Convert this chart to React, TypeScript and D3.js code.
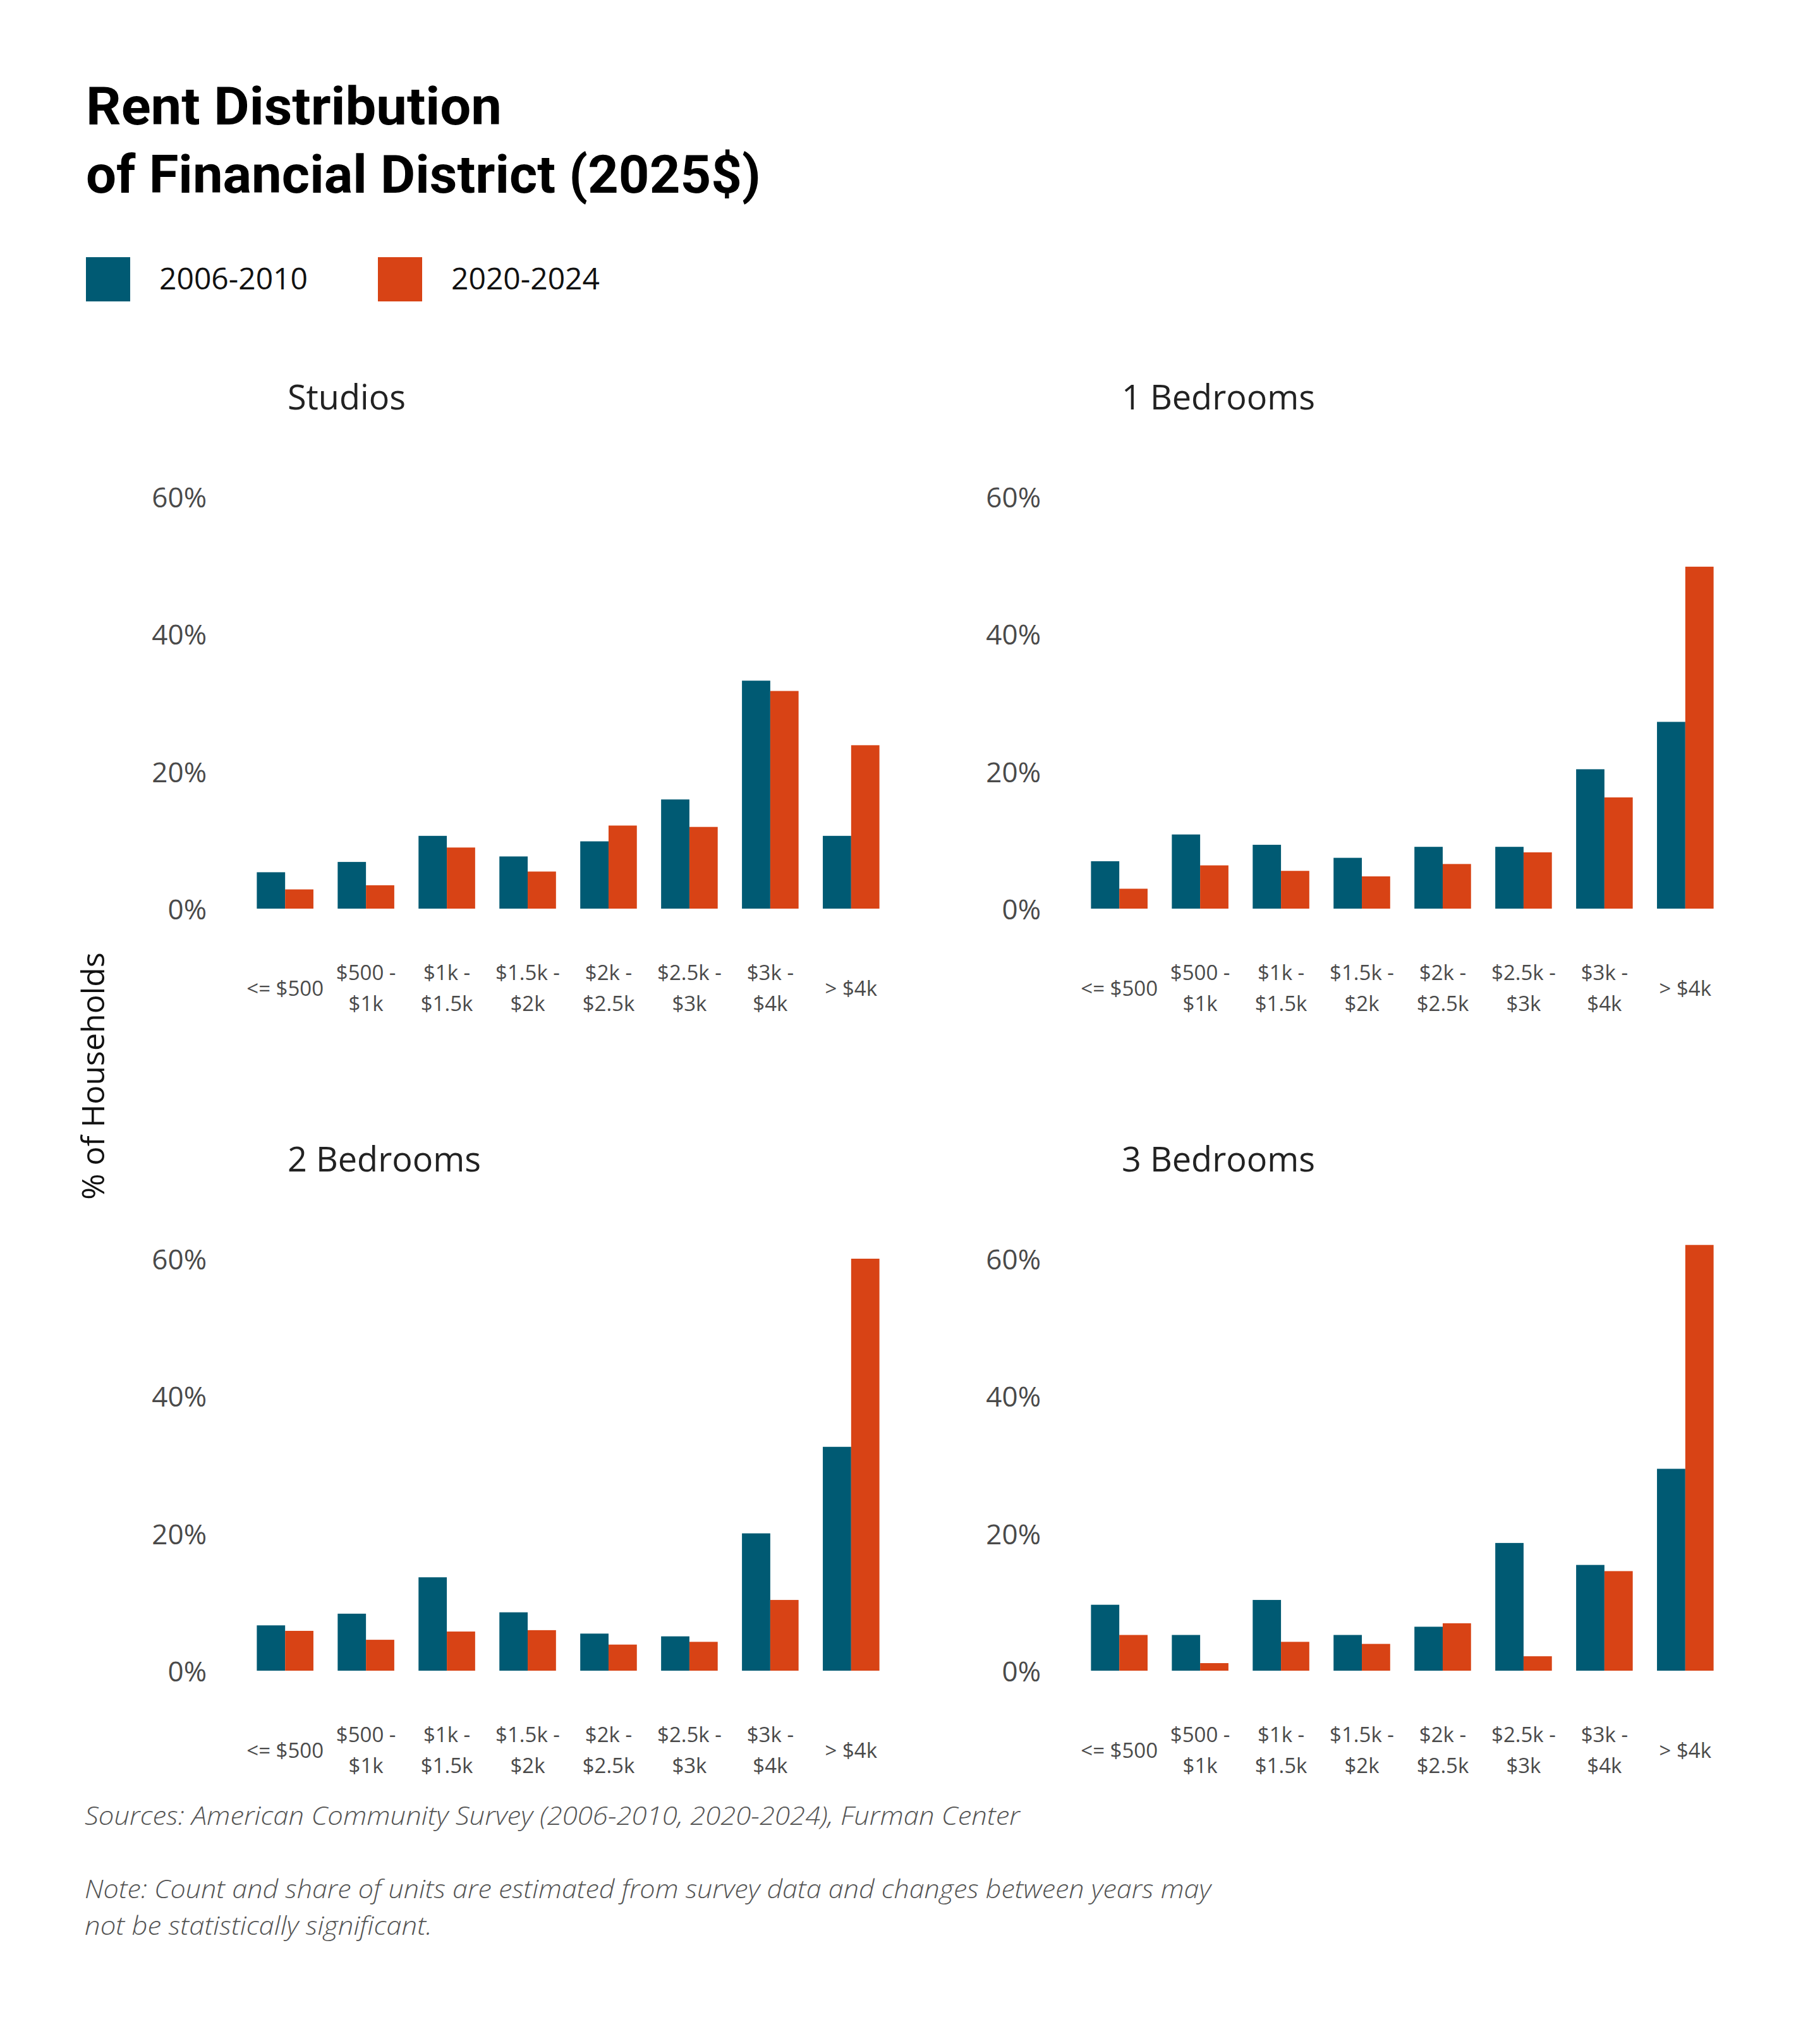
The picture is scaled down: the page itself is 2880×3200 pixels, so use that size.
import * as d3 from "d3";
import { useEffect } from "react";

const WIDTH = 2880;
const HEIGHT = 3200;

const categories = ["<= $500", "$500 - $1k", "$1k - $1.5k", "$1.5k - $2k", "$2k - $2.5k", "$2.5k - $3k", "$3k - $4k", "> $4k"];
const categoryLines = [["<= $500"], ["$500 -", "$1k"], ["$1k -", "$1.5k"], ["$1.5k -", "$2k"], ["$2k -", "$2.5k"], ["$2.5k -", "$3k"], ["$3k -", "$4k"], ["> $4k"]];
const series = ["2006-2010", "2020-2024"];
const yTicks = [0, 20, 40, 60];

const studios2006 = [5.3, 6.8, 10.6, 7.6, 9.8, 15.9, 33.2, 10.6];
const studios2020 = [2.8, 3.4, 8.9, 5.4, 12.1, 11.9, 31.7, 23.8];
const oneBed2006 = [6.9, 10.8, 9.3, 7.4, 9.0, 9.0, 20.3, 27.2];
const oneBed2020 = [2.9, 6.3, 5.5, 4.7, 6.5, 8.2, 16.2, 49.8];
const twoBed2006 = [6.6, 8.3, 13.6, 8.5, 5.4, 5.0, 20.0, 32.6];
const twoBed2020 = [5.8, 4.5, 5.7, 5.9, 3.8, 4.2, 10.3, 60.0];
const threeBed2006 = [9.6, 5.2, 10.3, 5.2, 6.4, 18.6, 15.4, 29.4];
const threeBed2020 = [5.2, 1.1, 4.2, 3.9, 6.9, 2.1, 14.5, 62.0];

const panelTitles = ["Studios", "1 Bedrooms", "2 Bedrooms", "3 Bedrooms"];
const panelValues = [
  [studios2006, studios2020],
  [oneBed2006, oneBed2020],
  [twoBed2006, twoBed2020],
  [threeBed2006, threeBed2020],
];

const COLORS = ["#005a73", "#d84315"];
const FONT = "'Open Sans', sans-serif";
const PANEL_W = 1320; // horizontal offset between columns
const PANEL_H = 1206; // vertical offset between rows
const BASE_X = [368, 1430]; // band range of first panel
const BASE_Y0 = 1438; // zero line of first panel
const Y_SPAN = 652; // pixels for 60%

const Panel = ({ title, values, col, row }) => {
  const dx = col * PANEL_W;
  const y0 = BASE_Y0 + row * PANEL_H;

  const x = d3.scaleBand().domain(categories).range([BASE_X[0] + dx, BASE_X[1] + dx]).paddingInner(0.3).paddingOuter(0.3);
  const xs = d3.scaleBand().domain(series).range([0, x.bandwidth()]);
  const y = d3.scaleLinear().domain([0, 60]).range([y0, y0 - Y_SPAN]);

  return (
    <g>
      <text x={455 + dx} y={648 + row * PANEL_H} fontFamily={FONT} fontSize={54} fill="#222">
        {title}
      </text>
      {yTicks.map((t) => (
        <text key={t} x={327 + dx} y={y(t)} textAnchor="end" dominantBaseline="central" fontFamily={FONT} fontSize={44} fill="#4a4a4a">
          {t}%
        </text>
      ))}
      {series.map((s, si) =>
        values[si].map((v, i) => (
          <rect
            key={s + i}
            x={x(categories[i]) + xs(s)}
            y={y(v)}
            width={xs.bandwidth()}
            height={y0 - y(v)}
            fill={COLORS[si]}
          />
        ))
      )}
      {categories.map((c, i) => {
        const lines = categoryLines[i];
        const cx = x(c) + x.bandwidth() / 2;
        return lines.map((l, li) => (
          <text
            key={c + li}
            x={cx}
            y={lines.length === 1 ? y0 + 138 : y0 + 113 + li * 49}
            textAnchor="middle"
            fontFamily={FONT}
            fontSize={33}
            fill="#4a4a4a"
          >
            {l}
          </text>
        ));
      })}
    </g>
  );
};

export default function App() {
  useEffect(() => {
    document.body.style.margin = "0";
  }, []);

  return (
    <svg width={WIDTH} height={HEIGHT} style={{ display: "block", background: "#fff" }}>
      <rect width={WIDTH} height={HEIGHT} fill="#fff" />
      {/* Title */}
      <text x={136} y={197} fontFamily="Roboto, sans-serif" fontWeight={700} fontSize={84} fill="#000" textLength={658} lengthAdjust="spacingAndGlyphs">
        Rent Distribution
      </text>
      <text x={136} y={305} fontFamily="Roboto, sans-serif" fontWeight={700} fontSize={84} fill="#000" textLength={1068} lengthAdjust="spacingAndGlyphs">
        of Financial District (2025$)
      </text>

      {/* Legend */}
      {series.map((s, i) => (
        <g key={s} transform={`translate(${136 + i * 462},407)`}>
          <rect width={70} height={70} fill={COLORS[i]} />
          <text x={116} y={51} fontFamily={FONT} fontSize={48} fill="#111">
            {s}
          </text>
        </g>
      ))}

      {panelTitles.map((t, i) => (
        <Panel key={t} title={t} values={panelValues[i]} col={i % 2} row={Math.floor(i / 2)} />
      ))}

      {/* Y axis title */}
      <text transform="translate(165,1703) rotate(-90)" textAnchor="middle" fontFamily={FONT} fontSize={50} fill="#111">
        % of Households
      </text>

      {/* Footnotes */}
      <text x={134} y={2888} fontFamily={FONT} fontStyle="italic" fontWeight={300} fontSize={40} fill="#555" textLength={1480} lengthAdjust="spacingAndGlyphs">
        Sources: American Community Survey (2006-2010, 2020-2024), Furman Center
      </text>
      <text x={134} y={3004} fontFamily={FONT} fontStyle="italic" fontWeight={300} fontSize={40} fill="#555" textLength={1782} lengthAdjust="spacingAndGlyphs">
        Note: Count and share of units are estimated from survey data and changes between years may
      </text>
      <text x={134} y={3062} fontFamily={FONT} fontStyle="italic" fontWeight={300} fontSize={40} fill="#555" textLength={550} lengthAdjust="spacingAndGlyphs">
        not be statistically significant.
      </text>
    </svg>
  );
}
